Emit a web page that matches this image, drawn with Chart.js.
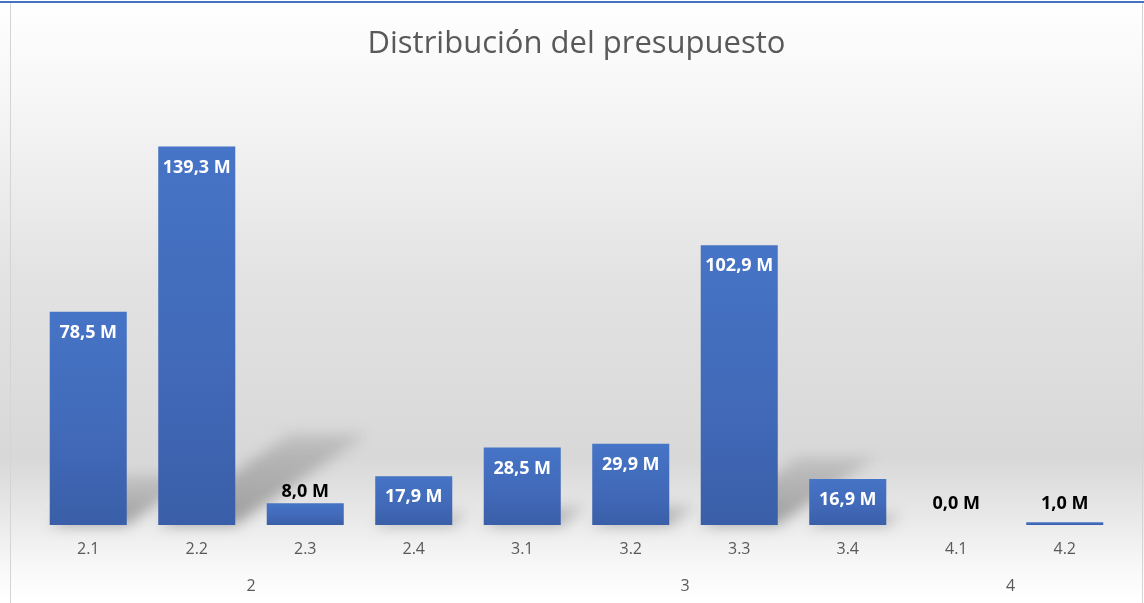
<!DOCTYPE html>
<html>
<head>
<meta charset="utf-8">
<script src="https://cdn.jsdelivr.net/npm/chart.js@4/dist/chart.umd.min.js"></script>
<style>
  html, body { margin: 0; padding: 0; background: #fff; }
  #wrap { position: relative; width: 1144px; height: 603px; overflow: hidden; }
  #c { position: absolute; left: 0; top: 0; }
  .topline { position: absolute; left: 0; top: 1px; width: 1144px; height: 2px; background: #4472c4; }
  .side { position: absolute; top: 3px; width: 1px; height: 600px; background: #d4d4d4; }
</style>
</head>
<body>
<div id="wrap">
  <canvas id="c" width="1144" height="603"></canvas>
  <div class="topline"></div>
  <div class="side" style="left:10px"></div>
  <div class="side" style="left:1142px"></div>
</div>
<script>
// ---- Data ----
const categories = ['2.1', '2.2', '2.3', '2.4', '3.1', '3.2', '3.3', '3.4', '4.1', '4.2'];
const values = [78.5, 139.3, 8.0, 17.9, 28.5, 29.9, 102.9, 16.9, 0.0, 1.0];
const groupLabels = ['2', '3', '4'];
const groupSizes = [4, 4, 2];
const titleText = 'Distribución del presupuesto';

// group centres in category-index units
const groupCenters = [];
(function () {
  let start = 0;
  groupSizes.forEach(n => { groupCenters.push(start + (n - 1) / 2); start += n; });
})();

function fmt(v) { return v.toFixed(1).replace('.', ',') + ' M'; }

const FONT = '"Open Sans", "Noto Sans", sans-serif';

const bgPlugin = {
  id: 'bg',
  beforeDraw(chart) {
    const ctx = chart.ctx, W = chart.width, H = chart.height;
    const g = ctx.createLinearGradient(0, 0, 0, H);
    g.addColorStop(0.00, '#ffffff');
    g.addColorStop(0.15, '#f7f7f7');
    g.addColorStop(0.45, '#e3e3e3');
    g.addColorStop(0.76, '#d8d8d8');
    g.addColorStop(0.87, '#ebebeb');
    g.addColorStop(0.94, '#f8f8f8');
    g.addColorStop(1.00, '#ffffff');
    ctx.save();
    ctx.fillStyle = g;
    ctx.fillRect(0, 0, W, H);
    ctx.restore();
  }
};

const shadowPlugin = {
  id: 'barShadow',
  beforeDatasetsDraw(chart) {
    const ctx = chart.ctx;
    const meta = chart.getDatasetMeta(0);
    ctx.save();
    ctx.filter = 'blur(7px)';
    meta.data.forEach(el => {
      const p = el.getProps(['x', 'y', 'base', 'width'], true);
      const bh = p.base - p.y;
      if (bh < 30) return;
      const h = 0.24 * bh, dx = 1.45 * h;
      const x0 = p.x - p.width / 2, x1 = p.x + p.width / 2;
      const g = ctx.createLinearGradient(0, p.base, 0, p.base - h);
      g.addColorStop(0, 'rgba(60,60,60,0.45)');
      g.addColorStop(1, 'rgba(60,60,60,0.15)');
      ctx.fillStyle = g;
      ctx.beginPath();
      ctx.moveTo(x0, p.base);
      ctx.lineTo(x1, p.base);
      ctx.lineTo(x1 + dx, p.base - h);
      ctx.lineTo(x0 + dx, p.base - h);
      ctx.closePath();
      ctx.fill();
    });
    ctx.restore();
  }
};

const labelPlugin = {
  id: 'valueLabels',
  afterDatasetsDraw(chart) {
    const ctx = chart.ctx;
    const meta = chart.getDatasetMeta(0);
    ctx.save();
    ctx.font = 'bold 18px ' + FONT;
    ctx.textAlign = 'center';
    ctx.textBaseline = 'middle';
    meta.data.forEach((el, i) => {
      const p = el.getProps(['x', 'y', 'base'], true);
      const bh = p.base - p.y;
      let cy, color;
      if (bh >= 40) { cy = p.y + 21; color = '#ffffff'; }
      else { cy = Math.min(p.y - 11, p.base - 21); color = '#000000'; }
      ctx.fillStyle = color;
      ctx.fillText(fmt(values[i]), p.x, cy);
    });
    ctx.restore();
  }
};

function barFill(context) {
  const chart = context.chart;
  const ca = chart.chartArea;
  if (!ca || !chart.scales.y) return '#4472c4';
  const y = chart.scales.y;
  const top = y.getPixelForValue(values[context.dataIndex]);
  const bot = y.getPixelForValue(0);
  if (bot - top < 1) return '#4472c4';
  const g = chart.ctx.createLinearGradient(0, top, 0, bot);
  g.addColorStop(0, '#4674c6');
  g.addColorStop(0.6, '#4169b8');
  g.addColorStop(1, '#3a5fa8');
  return g;
}

new Chart(document.getElementById('c'), {
  type: 'bar',
  data: {
    labels: categories,
    datasets: [{
      data: values,
      backgroundColor: barFill,
      borderWidth: 0,
      categoryPercentage: 1.0,
      barPercentage: 0.71
    }]
  },
  plugins: [bgPlugin, shadowPlugin, labelPlugin],
  options: {
    responsive: false,
    animation: false,
    layout: { padding: { left: 34, right: 25, top: 0, bottom: 0 } },
    plugins: {
      legend: { display: false },
      tooltip: { enabled: false },
      title: {
        display: true,
        text: titleText,
        color: '#595959',
        font: { family: FONT, size: 31, weight: 'normal' },
        padding: { top: 26, bottom: 27 }
      }
    },
    scales: {
      y: {
        display: false,
        min: 0,
        max: 160
      },
      x: {
        weight: 0,
        grid: { display: false, drawTicks: false },
        border: { display: false },
        afterFit(scale) { scale.height = 38; },
        ticks: {
          color: '#595959',
          font: { family: FONT, size: 16 },
          padding: 15,
          maxRotation: 0
        }
      },
      groups: {
        type: 'linear',
        position: 'bottom',
        weight: 1,
        offset: false,
        bounds: 'data',
        min: -0.5,
        max: categories.length - 0.5,
        grid: { display: false, drawTicks: false, offset: false },
        border: { display: false },
        afterBuildTicks(scale) {
          scale.ticks = groupCenters.map(v => ({ value: v }));
          scale.min = -0.5;
          scale.max = categories.length - 0.5;
        },
        afterFit(scale) { scale.height = 40; },
        ticks: {
          color: '#595959',
          font: { family: FONT, size: 16 },
          padding: 14,
          maxRotation: 0,
          autoSkip: false,
          callback(value) {
            const idx = groupCenters.indexOf(value);
            return idx >= 0 ? groupLabels[idx] : '';
          }
        }
      }
    }
  }
});
</script>
</body>
</html>
